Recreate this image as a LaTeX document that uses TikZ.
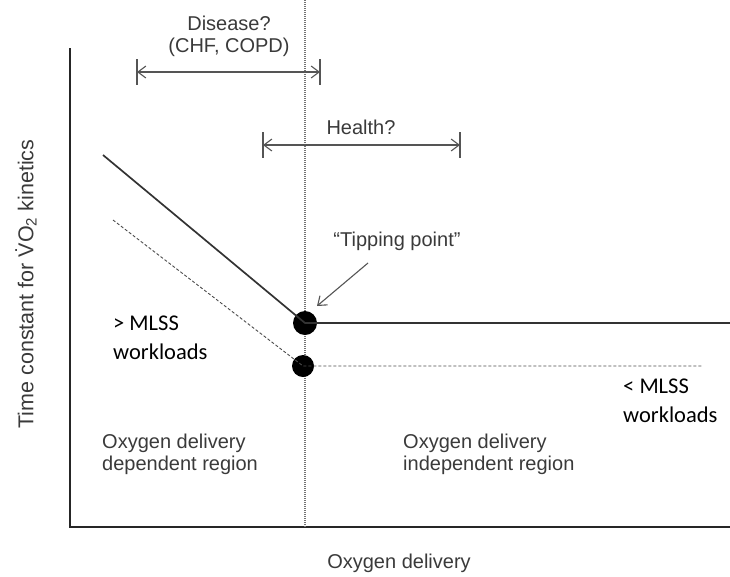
\documentclass[tikz,border=0pt]{standalone}
\usepackage{fontspec}
\setmainfont{Liberation Sans}
\newfontfamily\calfont{Carlito}
\usetikzlibrary{arrows.meta}
\definecolor{txtgray}{HTML}{3A3A3A}
\definecolor{lngray}{HTML}{555555}
\begin{document}
\begin{tikzpicture}[x=1pt,y=-1pt,
  lbl/.style={text=txtgray,font=\fontsize{20}{22}\selectfont,align=left,inner sep=0pt},
  cal/.style={text=black,font=\calfont\fontsize{22.5}{29}\selectfont,align=left,inner sep=0pt},
  axis/.style={line width=1.8pt,black!85},
  solidline/.style={line width=1.7pt,black!80},
  dashline/.style={line width=0.9pt,black!70,dash pattern=on 3pt off 2pt},
  dotline/.style={line width=1.1pt,black!55,dash pattern=on 1pt off 1pt},
  spanarrow/.style={line width=1.1pt,lngray,{Straight Barb[length=8pt,width=12pt]}-{Straight Barb[length=8pt,width=12pt]}},
  barline/.style={line width=1.4pt,lngray},
  dotnode/.style={circle,fill=black,inner sep=0pt,minimum size=24pt}
]
\useasboundingbox (0,0) rectangle (730,576);
% axes
\coordinate (ytop) at (70,48);
\coordinate (orig) at (70,527);
\coordinate (xend) at (730,527);
\draw[axis] (ytop) -- (orig) -- (xend);
% vertical dotted
\coordinate (vtop) at (305,0);
\coordinate (vbot) at (305,527);
\draw[dotline] (vtop) -- (vbot);
% dots
\node[dotnode] (tp) at (305,323) {};
\node[dotnode,minimum size=22pt] (lp) at (303,366) {};
% solid line
\coordinate (s0) at (103,155);
\coordinate (s1) at (730,323);
\draw[solidline] (s0) -- (tp.center) -- (s1);
% dashed line
\coordinate (d0) at (113,220);
\coordinate (d1) at (703,366);
\draw[dashline] (d0) -- (lp.center) -- (d1);
% Disease range
\coordinate (da) at (137,72);
\coordinate (db) at (320,72);
\draw[spanarrow] (da) -- (db);
\draw[barline] (137,59) -- (137,85);
\draw[barline] (320,59) -- (320,85);
\node[lbl,align=center] (dis) at (229,36) {Disease?\\(CHF, COPD)};
% Health range
\coordinate (ha) at (263,145);
\coordinate (hb) at (460,145);
\draw[spanarrow] (ha) -- (hb);
\draw[barline] (263,132) -- (263,158);
\draw[barline] (460,132) -- (460,158);
\node[lbl] (hl) at (361,127) {Health?};
% Tipping point
\node[lbl] (tip) at (397,241) {“Tipping point”};
\coordinate (tipa) at (368,263);
\coordinate (tipb) at (317,306);
\draw[line width=1.1pt,lngray,-{Straight Barb[length=8pt,width=12pt]}] (tipa) -- (tipb);
% MLSS labels
\node[cal,anchor=west] (gt) at (113,338) {> MLSS\\workloads};
\node[cal,anchor=west] (lt) at (623,401) {< MLSS\\workloads};
% region labels
\node[lbl,anchor=west] (dep) at (102,454) {Oxygen delivery\\dependent region};
\node[lbl,anchor=west] (ind) at (403,454) {Oxygen delivery\\independent region};
% axis labels
\node[lbl] (xl) at (399,563) {Oxygen delivery};
\node[lbl,font=\fontsize{21.5}{24}\selectfont,rotate=90] (yl) at (26,284) {Time constant for \.{V}O\textsubscript{2} kinetics};
\end{tikzpicture}
\end{document}
